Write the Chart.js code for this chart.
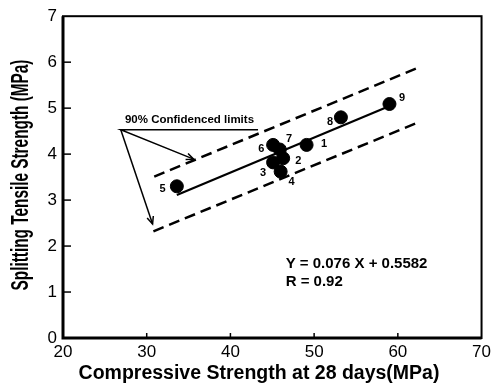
<!DOCTYPE html>
<html>
<head>
<meta charset="utf-8">
<script src="https://cdn.jsdelivr.net/npm/chart.js@4.4.1/dist/chart.umd.min.js"></script>
<style>
html,body{margin:0;padding:0;background:#fff;}
#wrap{width:495px;height:390px;position:relative;}
</style>
</head>
<body>
<div id="wrap"><canvas id="c" width="495" height="390"></canvas></div>
<script>
// ---- data ----
const pointIds = ['1','2','3','4','5','6','7','8','9'];
const compStrength = [49.1, 46.3, 45.1, 46.0, 33.6, 45.1, 45.9, 53.2, 59.0];
const tensileStrength = [4.20, 3.91, 3.82, 3.62, 3.30, 4.20, 4.10, 4.80, 5.09];
const labelX = [51.2, 48.1, 43.9, 47.3, 31.9, 43.7, 47.0, 51.9, 60.5];
const labelY = [4.23, 3.85, 3.58, 3.40, 3.25, 4.12, 4.34, 4.70, 5.22];
const fitLine = [{x:33.6,y:3.11},{x:58.8,y:5.03}];
const upperLimit = [{x:30.9,y:3.51},{x:62.3,y:5.87}];
const lowerLimit = [{x:30.8,y:2.32},{x:62.3,y:4.68}];
const pointerA = [{x:43.3,y:4.53},{x:26.9,y:4.53},{x:35.6,y:3.89}];
const pointerB = [{x:26.9,y:4.53},{x:30.7,y:2.48}];
const arrowTips = [{from:{x:26.9,y:4.53},to:{x:35.6,y:3.89}},{from:{x:26.9,y:4.53},to:{x:30.7,y:2.48}}];
const xTicks = [20,30,40,50,60,70];
const yTicks = [0,1,2,3,4,5,6,7];
const annotationText = {text:'90% Confidenced limits', x:27.4, y:4.75};
const equationLines = [{text:'Y = 0.076 X + 0.5582', x:46.6, y:1.62},{text:'R = 0.92', x:46.6, y:1.22}];
const xTitle = 'Compressive Strength at 28 days(MPa)';
const yTitle = 'Splitting Tensile Strength (MPa)';

const FONT = '"Liberation Sans", Arial, sans-serif';

const points = compStrength.map((x,i)=>({x:x,y:tensileStrength[i]}));

const decor = {
  id:'decor',
  afterDatasetsDraw(chart){
    const ctx = chart.ctx, xs = chart.scales.x, ys = chart.scales.y, a = chart.chartArea;
    ctx.save();
    // frame
    ctx.strokeStyle = '#000';
    ctx.lineWidth = 2;
    ctx.strokeRect(a.left, a.top, a.right - a.left, a.bottom - a.top);
    ctx.lineWidth = 3;
    ctx.beginPath();
    ctx.moveTo(a.left, a.top); ctx.lineTo(a.left, a.bottom); ctx.lineTo(a.right, a.bottom);
    ctx.stroke();
    // inward ticks
    ctx.lineWidth = 1.5;
    yTicks.forEach(v=>{
      if (v===0 || v===7) return;
      const py = ys.getPixelForValue(v);
      ctx.beginPath(); ctx.moveTo(a.left, py); ctx.lineTo(a.left+8, py); ctx.stroke();
    });
    xTicks.forEach(v=>{
      if (v===20 || v===70) return;
      const px = xs.getPixelForValue(v);
      ctx.beginPath(); ctx.moveTo(px, a.bottom); ctx.lineTo(px, a.bottom-5); ctx.stroke();
    });
    // arrow heads
    ctx.lineWidth = 1.5;
    arrowTips.forEach(t=>{
      const x1 = xs.getPixelForValue(t.from.x), y1 = ys.getPixelForValue(t.from.y);
      const x2 = xs.getPixelForValue(t.to.x), y2 = ys.getPixelForValue(t.to.y);
      const ang = Math.atan2(y2-y1, x2-x1);
      const L = 8, s = 0.42;
      ctx.beginPath();
      ctx.moveTo(x2 - L*Math.cos(ang - s), y2 - L*Math.sin(ang - s));
      ctx.lineTo(x2, y2);
      ctx.lineTo(x2 - L*Math.cos(ang + s), y2 - L*Math.sin(ang + s));
      ctx.stroke();
    });
    // point labels
    ctx.fillStyle = '#000';
    ctx.font = 'bold 11px ' + FONT;
    ctx.textAlign = 'center'; ctx.textBaseline = 'middle';
    pointIds.forEach((id,i)=>{
      ctx.fillText(id, xs.getPixelForValue(labelX[i]), ys.getPixelForValue(labelY[i]));
    });
    // annotation text
    ctx.font = 'bold 11.5px ' + FONT;
    ctx.textAlign = 'left';
    ctx.fillText(annotationText.text, xs.getPixelForValue(annotationText.x), ys.getPixelForValue(annotationText.y));
    // equation
    ctx.font = 'bold 15px ' + FONT;
    equationLines.forEach(e=>{
      ctx.fillText(e.text, xs.getPixelForValue(e.x), ys.getPixelForValue(e.y));
    });
    // axis titles
    ctx.font = 'bold 19.5px ' + FONT;
    ctx.textAlign = 'center';
    ctx.fillText(xTitle, 259, 374);
    ctx.save();
    ctx.translate(21, 175);
    ctx.rotate(-Math.PI/2);
    ctx.scale(0.64, 1);
    ctx.font = 'bold 24px ' + FONT;
    ctx.fillText(yTitle, 0, 0);
    ctx.restore();
    ctx.restore();
  }
};

const lineDs = (data, dash, w) => ({
  type:'line', data:data, borderColor:'#000', borderWidth:w, borderDash:dash,
  pointRadius:0, fill:false, tension:0, showLine:true
});

new Chart(document.getElementById('c'), {
  type:'scatter',
  data:{
    datasets:[
      lineDs(fitLine, [], 2.2),
      lineDs(upperLimit, [11,6], 2.5),
      lineDs(lowerLimit, [11,6], 2.5),
      lineDs(pointerA, [], 1.5),
      lineDs(pointerB, [], 1.5),
      {type:'scatter', data:points, backgroundColor:'#000', borderColor:'#000',
       pointRadius:6.5, pointHoverRadius:6.5, pointStyle:'circle'}
    ]
  },
  options:{
    responsive:false, animation:false,
    layout:{padding:{left:0, right:8, top:13, bottom:0}},
    plugins:{legend:{display:false}, tooltip:{enabled:false}},
    scales:{
      x:{
        type:'linear', min:20, max:70,
        afterBuildTicks(s){ s.ticks = xTicks.map(v=>({value:v})); },
        afterFit(s){ s.height = 52; },
        grid:{display:false, drawTicks:false},
        border:{display:false},
        ticks:{font:{family:FONT, size:17}, color:'#000', padding:4, maxRotation:0}
      },
      y:{
        type:'linear', min:0, max:7,
        afterBuildTicks(s){ s.ticks = yTicks.map(v=>({value:v})); },
        afterFit(s){ s.width = 63; },
        grid:{display:false, drawTicks:false},
        border:{display:false},
        ticks:{font:{family:FONT, size:17}, color:'#000', padding:6}
      }
    }
  },
  plugins:[decor]
});
</script>
</body>
</html>
